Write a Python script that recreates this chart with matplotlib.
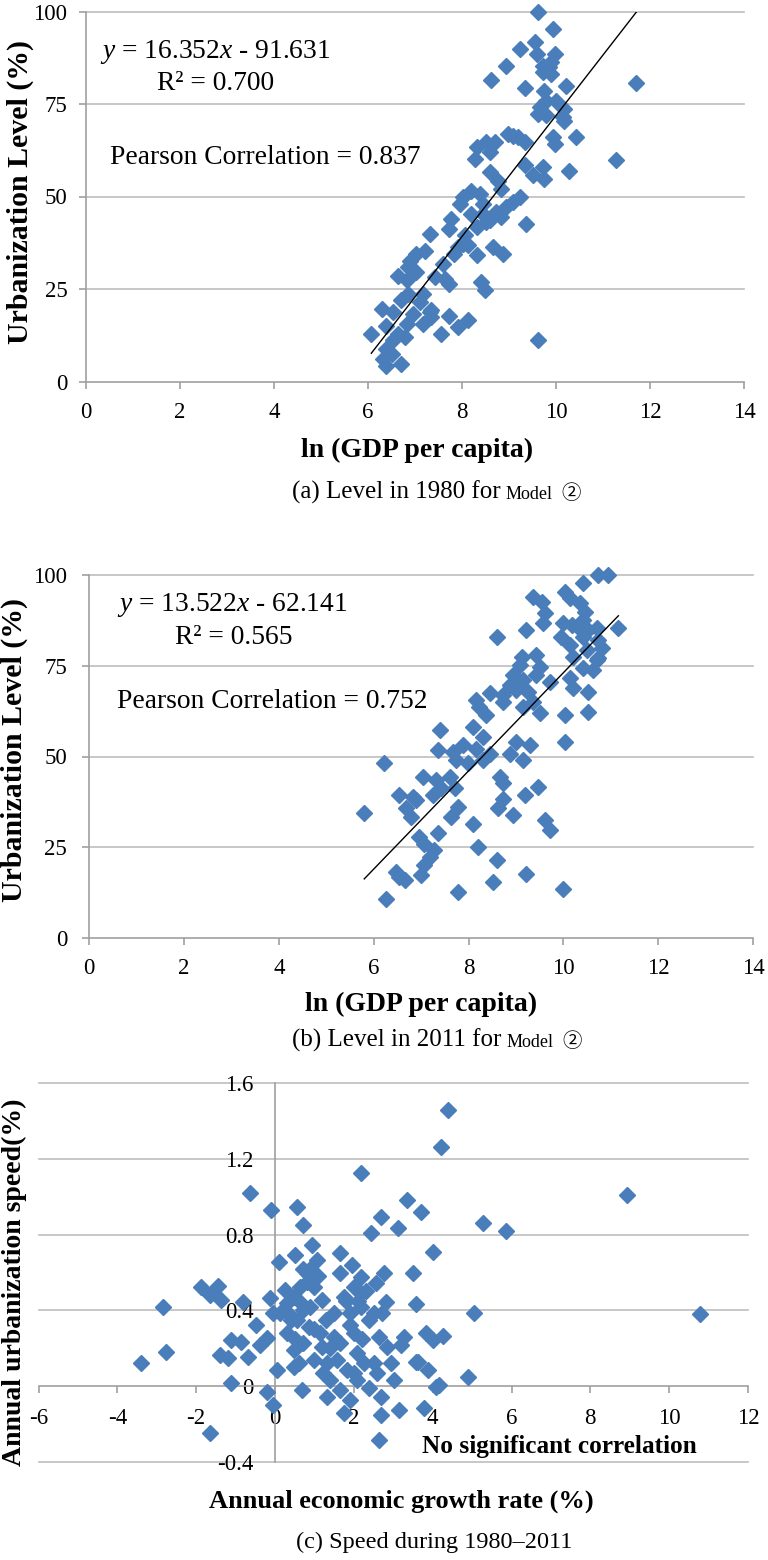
import matplotlib
matplotlib.use('Agg')
import matplotlib.pyplot as plt
import numpy as np

plt.rcParams['font.family'] = ['Liberation Serif', 'DejaVu Sans']
plt.rcParams['mathtext.fontset'] = 'custom'
plt.rcParams['mathtext.rm'] = 'Liberation Serif'
plt.rcParams['mathtext.it'] = 'Liberation Serif:italic'
plt.rcParams['axes.unicode_minus'] = False

# ---------------- data ----------------
# (a) 1980: ln(GDP per capita) vs urbanization level
a_x = [9.62, 9.93, 9.24, 9.55, 9.59, 9.97, 8.94, 9.72, 9.90, 9.90, 9.72, 8.62, 9.33, 10.22, 11.71,
       9.75, 9.79, 10.00, 9.65, 10.18, 9.62, 9.79, 10.18, 8.98, 9.19, 8.70, 8.31, 9.93, 10.43, 9.33,
       8.59, 8.27, 11.28, 9.72, 10.28, 9.33, 9.50, 9.75, 8.59, 8.77, 8.84, 8.20, 8.02, 7.95, 9.23,
       9.09, 8.94, 8.73, 8.45, 8.84, 7.77, 8.20, 9.37, 8.31, 8.52, 7.73, 7.31, 8.06, 7.92, 8.13,
       8.31, 8.66, 8.87, 7.03, 6.89, 7.21, 7.60, 6.64, 7.03, 6.82, 7.42, 7.73, 8.41, 8.48, 6.86,
       6.71, 7.17, 7.10, 6.29, 6.53, 6.96, 7.31, 7.73, 8.12, 7.92, 6.82, 6.39, 7.17, 7.35, 6.07,
       7.55, 6.78, 6.53, 6.64, 6.39, 6.32, 6.39, 6.71, 9.62, 6.50, 9.97, 10.15, 8.52, 8.38, 8.45,
       9.09, 6.86, 7.63, 7.35, 8.02, 7.84, 8.59, 9.86]
a_y = [100.0, 95.3, 89.9, 91.7, 88.6, 88.6, 85.4, 85.4, 86.3, 83.2, 83.6, 81.4, 79.4, 80.0, 80.6,
       78.6, 75.9, 75.9, 74.1, 73.7, 72.3, 71.9, 70.5, 66.9, 66.0, 64.7, 63.3, 66.0, 66.0, 64.7,
       62.0, 60.2, 59.9, 57.9, 57.0, 58.4, 55.7, 54.8, 56.6, 54.3, 52.1, 51.6, 49.8, 48.0, 49.8,
       48.5, 47.1, 45.8, 45.3, 44.4, 44.0, 45.3, 42.6, 41.7, 43.1, 41.3, 39.9, 39.5, 36.3, 36.8,
       34.1, 36.3, 34.5, 34.5, 32.7, 35.4, 31.8, 28.6, 29.5, 27.3, 28.2, 26.4, 26.8, 24.6, 23.7,
       21.9, 23.7, 21.4, 19.6, 18.7, 18.3, 18.7, 17.8, 16.5, 14.7, 15.6, 15.1, 15.6, 17.4, 12.9,
       12.9, 12.0, 11.1, 12.9, 8.8, 6.1, 4.3, 4.8, 11.1, 7.5, 64.2, 71.4, 64.7, 50.7, 48.0,
       66.4, 30.9, 27.7, 19.2, 37.2, 34.5, 43.6, 84.9]
a_slope, a_intercept = 16.352, -91.631

# (b) 2011
b_x = [10.74, 10.95, 10.42, 10.03, 10.14, 9.36, 9.54, 9.61, 10.35, 10.46, 9.58, 9.22, 10.00, 10.18,
       10.53, 10.70, 11.16, 8.59, 9.96, 10.42, 10.14, 10.81, 10.74, 9.12, 9.43, 9.08, 9.50, 10.21,
       10.70, 10.63, 10.42, 8.94, 9.15, 9.43, 9.72, 8.87, 9.01, 10.14, 10.21, 10.53, 8.45, 8.73,
       9.26, 9.36, 8.23, 8.37, 9.15, 9.50, 10.03, 10.53, 7.39, 8.09, 8.30, 10.03, 9.01, 9.29,
       7.35, 7.67, 8.16, 8.45, 8.87, 7.74, 7.99, 8.30, 9.15, 6.22, 7.03, 7.32, 7.60, 7.71,
       8.66, 8.73, 9.47, 6.54, 6.82, 7.25, 7.78, 8.73, 9.19, 6.68, 6.79, 7.63, 8.62, 5.80,
       8.09, 8.94, 9.61, 9.72, 6.96, 7.35, 7.07, 7.28, 8.20, 7.18, 7.07, 8.59, 6.47, 6.65,
       7.00, 9.22, 8.52, 7.78, 6.26, 10.00, 6.54, 6.89, 10.74, 10.42, 10.32, 8.73, 8.16, 7.42,
       7.88, 10.49]
b_y = [100.0, 100.0, 97.7, 95.4, 93.6, 94.0, 92.6, 89.4, 92.2, 89.9, 86.7, 84.8, 86.7, 86.2,
       84.8, 85.3, 85.3, 82.8, 83.0, 83.0, 80.7, 79.8, 82.1, 77.5, 77.9, 75.2, 74.7, 77.5,
       76.6, 73.8, 74.3, 72.4, 71.0, 72.4, 70.6, 69.7, 68.3, 71.5, 68.8, 67.8, 67.4, 65.1,
       67.8, 65.1, 63.7, 61.4, 63.7, 61.9, 61.4, 62.3, 57.3, 58.2, 55.4, 54.0, 54.0, 53.1,
       51.7, 51.3, 52.2, 50.8, 50.8, 49.0, 48.1, 49.0, 49.0, 48.1, 44.4, 43.5, 44.4, 41.2,
       44.4, 42.6, 41.6, 39.3, 38.9, 39.3, 36.1, 38.4, 39.3, 35.7, 33.4, 33.4, 35.7, 34.3,
       31.5, 33.8, 32.4, 29.7, 27.8, 28.8, 26.0, 24.2, 25.1, 22.3, 20.0, 21.4, 18.2, 15.9,
       17.3, 17.7, 15.4, 12.7, 10.8, 13.6, 16.8, 38.0, 77.0, 87.6, 85.3, 67.0, 65.5, 41.2,
       53.1, 79.3]
b_slope, b_intercept = 13.522, -62.141

# (c) annual economic growth rate vs annual urbanization speed, 1980-2011
c_x = [-3.40, -2.85, -2.77, -1.66, -1.87, -1.45, -1.66, -1.36, -0.81, -1.40, -1.19, -1.11, -0.85,
       -0.68, -1.11, -0.47, -0.38, -0.21, -0.64, -0.09, -0.13, -0.04, 0.04, -0.21, -0.04, 0.09,
       0.55, 0.72, 0.51, 0.94, 0.47, 0.30, 0.34, 0.30, 0.47, 0.60, 0.68, 0.81, 1.06, 0.98, 1.19,
       0.64, 0.72, 0.55, 0.85, 1.19, 0.98, 1.23, 1.32, 1.66, 1.66, 1.96, 2.17, 2.00, 2.55, 1.74,
       2.17, 2.51, 1.49, 1.66, 2.00, 1.57, 1.83, 2.00, 1.66, 1.74, 2.17, 2.43, 2.68, 2.77, 2.81,
       2.72, 2.64, 2.85, 2.51, 2.60, 2.38, 2.68, 2.68, 2.64, 3.02, 3.15, 3.11, 3.36, 3.70, 3.49,
       3.57, 3.28, 3.19, 3.62, 3.83, 3.87, 3.79, 4.00, 4.21, 4.09, 1.32, 1.49, 0.72, 1.15, 2.09,
       2.26, 1.40, 1.91, 0.47, 0.26, 0.89, 2.17, 2.38, 1.91, 2.09, 2.94, 0.13,
       4.38, 5.27, 5.87, 8.92, 5.06, 10.79, 4.25, 4.00, 4.89, 4.17, 3.58,
       0.40, 0.60, 0.80, 0.90, 1.10, 0.50, 1.30, 1.80, 2.10, 1.90, 2.30, 0.70, 1.00, 1.40, 2.20]
c_y = [0.120, 0.420, 0.180, -0.250, 0.525, 0.530, 0.480, 0.455, 0.446, 0.164, 0.146, 0.243, 0.234,
       0.155, 0.014, 0.322, 0.217, 0.252, 1.018, 0.930, 0.463, 0.384, 0.085, -0.030, -0.100, 0.657,
       0.948, 0.851, 0.692, 0.745, 0.472, 0.437, 0.384, 0.278, 0.190, 0.120, -0.020, 0.596, 0.666,
       0.525, 0.455, 0.525, 0.402, 0.349, 0.314, 0.208, 0.137, 0.067, -0.056, 0.701, 0.596, 0.640,
       0.578, 0.525, 0.543, 0.472, 0.419, 0.384, 0.261, 0.226, 0.278, 0.137, 0.085, 0.067, -0.021,
       -0.145, 1.124, 0.807, 0.895, 0.596, 0.446, 0.384, 0.261, 0.208, 0.120, 0.067, -0.012, -0.056,
       -0.153, -0.285, 0.032, -0.127, 0.833, 0.983, 0.922, 0.600, 0.434, 0.261, 0.217, 0.129, 0.278,
       0.085, -0.118, 0.710, 1.265, -0.004, 0.120, 0.384, 0.226, 0.278, 0.173, 0.120, 0.032, -0.074,
       0.102, 0.507, 0.419, 0.490, 0.349, 0.384, 0.032, 0.120, 0.384,
       1.459, 0.860, 0.821, 1.010, 0.384, 0.379, 0.264, 0.243, 0.049, 0.005, 0.129,
       0.350, 0.450, 0.550, 0.620, 0.580, 0.250, 0.350, 0.450, 0.450, 0.320, 0.500, 0.620, 0.300,
       0.200, 0.250]

a_yticks = [0, 25, 50, 75, 100]
ab_xticks = [0, 2, 4, 6, 8, 10, 12, 14]
c_xticks = [-6, -4, -2, 0, 2, 4, 6, 8, 10, 12]
c_yticks = [-0.4, 0, 0.4, 0.8, 1.2, 1.6]
c_yticklabels = ['-0.4', '0', '0.4', '0.8', '1.2', '1.6']

# ---------------- style ----------------
W, H = 768, 1560
BLUE = '#4A7EBB'
GRID = '#BDBDBD'
AXC = '#A0A0A0'
TICK_FS = 16.5
ANN_FS = 19.8
XLAB_FS = 20
YLAB_FS = 21.5
CAP_FS = 18
MODEL_FS = 13
MS = 8

fig = plt.figure(figsize=(W / 100, H / 100), dpi=100)


def px_axes(x0, x1, ytop, ybot):
    return fig.add_axes([x0 / W, 1 - ybot / H, (x1 - x0) / W, (ybot - ytop) / H])


def ftext(x, y, s, **kw):
    return fig.text(x / W, 1 - y / H, s, **kw)


def level_panel(ax, xs, ys, slope, intercept, ypad):
    ax.set_xlim(0, 14)
    ax.set_ylim(0, 100)
    for sp in ('top', 'right'):
        ax.spines[sp].set_visible(False)
    for sp in ('left', 'bottom'):
        ax.spines[sp].set_color(AXC)
        ax.spines[sp].set_linewidth(1.2)
    for v in a_yticks[1:]:
        ax.axhline(v, color=GRID, lw=1.2, zorder=0, clip_on=False)
    ax.set_xticks(ab_xticks)
    ax.set_yticks(a_yticks)
    ax.tick_params(axis='both', direction='out', length=5, width=1.2, color=AXC,
                   labelsize=TICK_FS)
    ax.tick_params(axis='x', pad=9.5)
    ax.tick_params(axis='y', pad=ypad)
    ax.plot(xs, ys, linestyle='none', marker='D', ms=MS, color=BLUE, mec=BLUE,
            clip_on=False, zorder=3)
    tx = np.array([min(xs), max(xs)])
    ax.plot(tx, slope * tx + intercept, color='black', lw=1.0, zorder=4)


renderer = fig.canvas.get_renderer()


def caption(x, ybase, main, fs_main):
    t1 = ftext(x, ybase, main, fontsize=fs_main, ha='left', va='baseline')
    bb = t1.get_window_extent(renderer=renderer)
    x2 = bb.x1 + 5
    t2 = fig.text(x2 / W, 1 - ybase / H, 'Model', fontsize=MODEL_FS, ha='left', va='baseline')
    bb2 = t2.get_window_extent(renderer=renderer)
    fig.text((bb2.x1 + 9) / W, 1 - ybase / H, '\u2461', fontsize=MODEL_FS + 1, ha='left',
             va='baseline', family=['Noto Sans CJK JP', 'DejaVu Sans'])


# ---- panel (a)
ax_a = px_axes(86, 744, 11.5, 381.5)
level_panel(ax_a, a_x, a_y, a_slope, a_intercept, ypad=8.5)
ftext(100, 52, r'$y$ = 16.352$x$ - 91.631', fontsize=ANN_FS, ha='left', va='center')
ftext(157, 83, 'R\u00b2 = 0.700', fontsize=ANN_FS, ha='left', va='center')
ftext(110, 157, 'Pearson Correlation = 0.837', fontsize=ANN_FS, ha='left', va='center')
ftext(20, 192, 'Urbanization Level (%)', fontsize=YLAB_FS, fontweight='bold', rotation=90,
      ha='center', va='center')
ftext(417, 450, 'ln (GDP per capita)', fontsize=XLAB_FS, fontweight='bold', ha='center',
      va='center')
caption(292, 499, '(a) Level in 1980 for', CAP_FS)

# ---- panel (b)
ax_b = px_axes(89.3, 753, 575, 938)
level_panel(ax_b, b_x, b_y, b_slope, b_intercept, ypad=11)
ftext(117, 605, r'$y$ = 13.522$x$ - 62.141', fontsize=ANN_FS, ha='left', va='center')
ftext(175, 637, 'R\u00b2 = 0.565', fontsize=ANN_FS, ha='left', va='center')
ftext(117, 702, 'Pearson Correlation = 0.752', fontsize=ANN_FS, ha='left', va='center')
ftext(14, 750, 'Urbanization Level (%)', fontsize=YLAB_FS, fontweight='bold', rotation=90,
      ha='center', va='center')
ftext(421, 1004, 'ln (GDP per capita)', fontsize=XLAB_FS, fontweight='bold', ha='center',
      va='center')
caption(292, 1047, '(b) Level in 2011 for', CAP_FS)

# ---- panel (c)
ax_c = px_axes(38.5, 748, 1083.3, 1461.7)
ax_c.set_xlim(-6, 12)
ax_c.set_ylim(-0.4, 1.6)
for sp in ('top', 'right'):
    ax_c.spines[sp].set_visible(False)
ax_c.spines['left'].set_position(('data', 0))
ax_c.spines['bottom'].set_position(('data', 0))
for sp in ('left', 'bottom'):
    ax_c.spines[sp].set_color(AXC)
    ax_c.spines[sp].set_linewidth(1.2)
for v in c_yticks:
    if v != 0:
        ax_c.axhline(v, color=GRID, lw=1.2, zorder=0, clip_on=False)
ax_c.set_xticks(c_xticks)
ax_c.set_xticklabels([str(v) for v in c_xticks])
ax_c.set_yticks(c_yticks)
ax_c.set_yticklabels(c_yticklabels)
ax_c.tick_params(axis='x', direction='out', length=5, width=1.2, color=AXC,
                 labelsize=TICK_FS, pad=10.5)
ax_c.tick_params(axis='y', length=0, labelsize=TICK_FS, pad=15.5)
ax_c.plot(c_x, c_y, linestyle='none', marker='D', ms=MS, color=BLUE, mec=BLUE,
          clip_on=False, zorder=3)
ftext(422, 1447, 'No significant correlation', fontsize=18.2, fontweight='bold', ha='left',
      va='center')
ftext(14, 1282, 'Annual urbanization speed(%)', fontsize=20, fontweight='bold',
      rotation=90, ha='center', va='center')
ftext(401, 1501, 'Annual economic growth rate (%)', fontsize=19, fontweight='bold',
      ha='center', va='center')
ftext(434, 1542, '(c) Speed during 1980\u20132011', fontsize=17.5, ha='center', va='center')

fig.savefig('out.png', dpi=100)
